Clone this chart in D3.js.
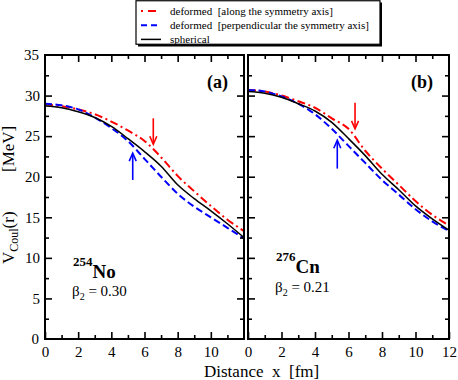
<!DOCTYPE html>
<html><head><meta charset="utf-8">
<script src="https://cdn.jsdelivr.net/npm/d3@7"></script>
<style>
body{margin:0;background:#fff}
svg text{font-family:'Liberation Serif','Tinos','Times New Roman','DejaVu Serif',serif}
</style></head>
<body><svg id="c" width="458" height="380"></svg>
<script>
const xs = [0,1,2,3,4,5,6,7,8,9,10,11,12];
// Panel (a) 254No
const noAlong  = [28.9,28.7,28.3,27.7,26.8,25.7,24.4,22.4,20.1,18.2,16.4,14.7,13.3];
const noPerp   = [29.0,28.8,28.3,27.3,26.0,24.4,22.2,20.0,17.9,16.3,15.0,13.7,12.4];
const noSph    = [28.7,28.5,28.0,27.3,26.2,24.7,23.1,21.3,19.0,17.3,15.8,14.2,12.5];
// Panel (b) 276Cn
const cnAlong  = [30.7,30.5,30.0,29.3,28.5,27.2,25.9,23.2,21.0,19.0,17.0,15.3,14.0];
const cnPerp   = [30.7,30.5,29.9,29.0,27.7,25.9,23.8,21.7,19.6,17.8,16.0,14.5,13.3];
const cnSph    = [30.5,30.3,29.8,29.0,28.1,26.7,24.7,22.6,20.3,18.4,16.4,14.8,13.4];
const xTicksA = [0,2,4,6,8,10];
const xTicksB = [0,2,4,6,8,10,12];
const yTicks = [0,5,10,15,20,25,30,35];
const legendLabels = ["deformed  [along the symmetry axis]","deformed  [perpendicular the symmetry axis]","spherical"];
// arrows: [x, tailV, tipV]
const arrowsA = {red:[6.53,27.2,24.0], blue:[5.29,19.6,22.9]};
const arrowsB = {red:[6.39,29.1,25.9], blue:[5.33,21.0,24.5]};

const FONT = "'Liberation Serif','Tinos','Times New Roman','DejaVu Serif',serif";
const svg = d3.select("#c");
const y = d3.scaleLinear().domain([0,35]).range([339,55]);
const panels = [
  {x:d3.scaleLinear().domain([0,12]).range([45,244]), data:[noAlong,noPerp,noSph], ticks:xTicksA, yLab:true, label:"(a)", nuc:"No", mass:"254", beta:"0.30", arrows:arrowsA, nucY:278, betaY:296},
  {x:d3.scaleLinear().domain([0,12]).range([248,449]), data:[cnAlong,cnPerp,cnSph], ticks:xTicksB, yLab:false, label:"(b)", nuc:"Cn", mass:"276", beta:"0.21", arrows:arrowsB, nucY:273, betaY:292}
];
const styles = [
  {stroke:"#ff0000", w:2, dash:"8,3.5,2,3.5"},
  {stroke:"#0000ff", w:2, dash:"7,3.5"},
  {stroke:"#000000", w:1.5, dash:null}
];
const FS = 15;

function styleAxis(g){
  g.attr("font-family",FONT);
  g.select(".domain").remove();
  g.selectAll("line").attr("stroke","#000").attr("stroke-width",1.6);
  g.selectAll("text").attr("font-size",FS).attr("fill","#000");
}

panels.forEach(p=>{
  const x = p.x;
  const [x0,x1] = x.range();
  p.data.forEach((vals,i)=>{
    const line = d3.line().x((d,j)=>x(xs[j])).y(d=>y(d)).curve(d3.curveMonotoneX);
    const s = styles[i];
    svg.append("path").datum(vals).attr("d",line).attr("fill","none")
      .attr("stroke",s.stroke).attr("stroke-width",s.w)
      .attr("stroke-dasharray",s.dash);
  });
  const gb = svg.append("g").attr("transform",`translate(0,339)`)
    .call(d3.axisBottom(x).tickValues(p.ticks).tickSize(-7).tickPadding(5).tickFormat(d3.format("d")));
  styleAxis(gb);
  gb.selectAll("text").attr("dy","0.85em");
  const gbm = svg.append("g").attr("transform",`translate(0,339)`)
    .call(d3.axisBottom(x).tickValues([1,3,5,7,9,11]).tickSize(-4).tickFormat(""));
  styleAxis(gbm);
  const gt = svg.append("g").attr("transform",`translate(0,55)`)
    .call(d3.axisTop(x).tickValues([2,4,6,8,10]).tickSize(-7).tickFormat(""));
  styleAxis(gt);
  const gtm = svg.append("g").attr("transform",`translate(0,55)`)
    .call(d3.axisTop(x).tickValues([1,3,5,7,9,11]).tickSize(-4).tickFormat(""));
  styleAxis(gtm);
  const gl = svg.append("g").attr("transform",`translate(${x0},0)`)
    .call(d3.axisLeft(y).tickValues(yTicks.slice(1,-1)).tickSize(-7).tickPadding(5).tickFormat(p.yLab? d3.format("d"):""));
  styleAxis(gl);
  const glm = svg.append("g").attr("transform",`translate(${x0},0)`)
    .call(d3.axisLeft(y).tickValues([2.5,7.5,12.5,17.5,22.5,27.5,32.5]).tickSize(-4).tickFormat(""));
  styleAxis(glm);
  const gr = svg.append("g").attr("transform",`translate(${x1},0)`)
    .call(d3.axisRight(y).tickValues(yTicks.slice(1,-1)).tickSize(-7).tickFormat(""));
  styleAxis(gr);
  const grm = svg.append("g").attr("transform",`translate(${x1},0)`)
    .call(d3.axisRight(y).tickValues([2.5,7.5,12.5,17.5,22.5,27.5,32.5]).tickSize(-4).tickFormat(""));
  styleAxis(grm);
  if(p.yLab){
    svg.append("g").selectAll("text").data([0,35]).join("text")
      .attr("x",x0-6).attr("y",d=>y(d)).attr("dy","0.35em").attr("text-anchor","end")
      .attr("font-size",FS).text(d=>d);
  }
  svg.append("rect").attr("x",x0).attr("y",55).attr("width",x1-x0).attr("height",284)
    .attr("fill","none").attr("stroke","#000").attr("stroke-width",2);
  svg.append("text").attr("x",x1-16).attr("y",88).attr("text-anchor","end")
    .attr("font-weight","bold").attr("font-size",18).text(p.label);
  const t = svg.append("text").attr("x",x0+28).attr("y",p.nucY).attr("font-weight","bold");
  t.append("tspan").attr("font-size",13).attr("dy",-12).text(p.mass);
  t.append("tspan").attr("font-size",19).attr("dy",12).text(p.nuc);
  const b = svg.append("text").attr("x",x0+27).attr("y",p.betaY).attr("font-size",15);
  b.append("tspan").text("β");
  b.append("tspan").attr("font-size",10).attr("dy",4).text("2");
  b.append("tspan").attr("dy",-4).text(" = "+p.beta);
  [["red","#ff0000"],["blue","#0000ff"]].forEach(([k,c])=>{
    const [ax,tail,tip] = p.arrows[k];
    const X = x(ax), Y0 = y(tail), Y1 = y(tip);
    const dir = Y1>Y0?1:-1;
    svg.append("line").attr("x1",X).attr("x2",X).attr("y1",Y0).attr("y2",Y1-dir*1)
      .attr("stroke",c).attr("stroke-width",1.6);
    svg.append("path").attr("d",`M${X-3.5},${Y1-dir*8}L${X},${Y1}L${X+3.5},${Y1-dir*8}`)
      .attr("fill","none").attr("stroke",c).attr("stroke-width",1.6);
  });
});

const yt = svg.append("g").attr("transform","translate(14,0) rotate(-90)");
const yv = yt.append("text").attr("x",-264).attr("y",0).attr("font-size",17);
yv.append("tspan").text("V");
yv.append("tspan").attr("font-size",12).attr("dy",4).text("Coul");
yv.append("tspan").attr("dy",-4).text("(r)");
yt.append("text").attr("x",-172).attr("y",0).attr("font-size",17).text("[MeV]");
svg.append("text").attr("x",204).attr("y",377).attr("font-size",17)
  .style("white-space","pre").text("Distance  x  [fm]");

const lg = svg.append("g");
lg.append("rect").attr("x",138).attr("y",2.5).attr("width",244).attr("height",44).attr("fill","#000");
lg.append("rect").attr("x",136).attr("y",0.75).attr("width",244).attr("height",43.5)
  .attr("fill","#fff").attr("stroke","#000").attr("stroke-width",1.2);
legendLabels.forEach((l,i)=>{
  const yy = 11 + i*14.2;
  const s = styles[i];
  lg.append("line").attr("x1",141).attr("x2",161).attr("y1",yy).attr("y2",yy)
    .attr("stroke",s.stroke).attr("stroke-width",s.w).attr("stroke-dasharray",s.dash? (i===0?"2,5,8,5":"6,4"):null);
  lg.append("text").attr("x",170).attr("y",yy+4).attr("font-size",11)
    .style("white-space","pre").text(l);
});
svg.selectAll("text").attr("font-family",FONT);
</script></body></html>
